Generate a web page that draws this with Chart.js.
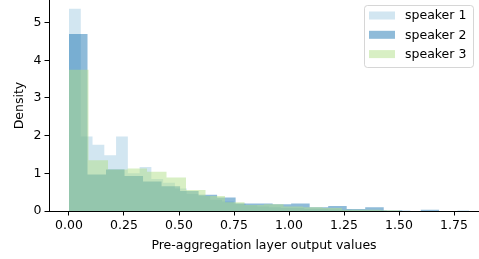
<!DOCTYPE html>
<html><head><meta charset="utf-8">
<script src="https://cdn.jsdelivr.net/npm/chart.js@4/dist/chart.umd.min.js"></script>
<style>html,body{margin:0;padding:0;background:#fff}#wrap{width:479px;height:259px;position:relative}</style>
</head><body><div id="wrap"><canvas id="c" width="479" height="259"></canvas></div>
<script>
// ---- data ----
const seriesNames = ['speaker 1', 'speaker 2', 'speaker 3'];
const binStart = [0, 0, 0];
const binWidth = [0.0535, 0.08415, 0.08864];
const speaker1 = [5.37, 1.98, 1.76, 1.48, 1.98, 1.00, 1.17, 0.85, 0.75, 0.60, 0.45, 0.40, 0.30, 0.25, 0.20, 0.15, 0.12, 0.10, 0.08, 0.08, 0.05, 0.05, 0.04, 0.03, 0.02, 0.02, 0.02, 0.00, 0.02, 0.00, 0.00, 0.00, 0.00, 0.02];
const speaker2 = [4.70, 0.97, 1.10, 0.93, 0.78, 0.66, 0.53, 0.43, 0.36, 0.20, 0.20, 0.18, 0.20, 0.10, 0.13, 0.05, 0.10, 0.01, 0.00, 0.03];
const speaker3 = [3.75, 1.35, 1.10, 1.13, 1.04, 0.89, 0.56, 0.40, 0.23, 0.16, 0.18, 0.12, 0.10, 0.08, 0.03, 0.03, 0.02];
const xTicks = [0, 0.25, 0.5, 0.75, 1.0, 1.25, 1.5, 1.75];
const yTicks = [0, 1, 2, 3, 4, 5];
const xRange = [-0.0909, 1.8636];
const yRange = [0, 5.6];
const xTitle = 'Pre-aggregation layer output values';
const yTitle = 'Density';

// ---- build ----
const FONT = 'DejaVu Sans';
const colors = ['rgba(166,206,227,0.5)', 'rgba(31,120,180,0.5)', 'rgba(178,223,138,0.5)'];
const allSeries = [speaker1, speaker2, speaker3];

function steps(vals, start, w) {
  const pts = vals.map((v, i) => ({x: start + i * w, y: v}));
  pts.push({x: start + vals.length * w, y: vals[vals.length - 1]});
  return pts;
}

const datasets = allSeries.map((vals, k) => ({
  label: seriesNames[k],
  data: steps(vals, binStart[k], binWidth[k]),
  stepped: true,
  fill: 'origin',
  backgroundColor: colors[k],
  borderWidth: 0,
  borderColor: 'rgba(0,0,0,0)',
  pointRadius: 0,
  pointHoverRadius: 0,
  order: 3 - k
}));

const legendPlugin = {
  id: 'mplLegend',
  afterDraw(chart) {
    const ctx = chart.ctx;
    ctx.save();
    const bx = 364.5, by = 5.5, bw = 109, bh = 62, r = 3;
    ctx.beginPath();
    ctx.moveTo(bx + r, by);
    ctx.arcTo(bx + bw, by, bx + bw, by + bh, r);
    ctx.arcTo(bx + bw, by + bh, bx, by + bh, r);
    ctx.arcTo(bx, by + bh, bx, by, r);
    ctx.arcTo(bx, by, bx + bw, by, r);
    ctx.closePath();
    ctx.fillStyle = 'rgba(255,255,255,0.8)';
    ctx.fill();
    ctx.strokeStyle = 'rgba(204,204,204,0.8)';
    ctx.lineWidth = 1;
    ctx.stroke();
    ctx.font = '12.5px "' + FONT + '"';
    ctx.textBaseline = 'middle';
    ctx.textAlign = 'left';
    chart.data.datasets.forEach((ds, i) => {
      const cy = 15.5 + i * 19.3;
      ctx.fillStyle = ds.backgroundColor;
      ctx.fillRect(369, cy - 4, 26, 8);
      ctx.fillStyle = '#000';
      ctx.fillText(ds.label, 405, cy + 0.5);
    });
    ctx.restore();
  }
};

new Chart(document.getElementById('c'), {
  type: 'line',
  data: {datasets},
  options: {
    responsive: false,
    animation: false,
    events: [],
    layout: {padding: 0},
    plugins: {legend: {display: false}, tooltip: {enabled: false}},
    scales: {
      x: {
        type: 'linear',
        min: xRange[0], max: xRange[1],
        afterBuildTicks: s => { s.ticks = xTicks.map(v => ({value: v})); },
        afterFit: s => { s.height = 48; s.paddingLeft = 0; s.paddingRight = 0; },
        ticks: {
          color: '#000', font: {family: FONT, size: 12.5}, padding: 3,
          maxRotation: 0, autoSkip: false,
          callback: v => Number(v).toFixed(2)
        },
        grid: {display: true, drawOnChartArea: false, drawTicks: true, tickLength: 4.5, color: '#000', lineWidth: 1},
        border: {display: true, color: '#000', width: 1},
        title: {display: true, text: xTitle, color: '#000', font: {family: FONT, size: 12.5}, padding: {top: 0, bottom: 6}}
      },
      y: {
        type: 'linear',
        min: yRange[0], max: yRange[1],
        afterBuildTicks: s => { s.ticks = yTicks.map(v => ({value: v})); },
        afterFit: s => { s.width = 49; s.paddingTop = 0; s.paddingBottom = 0; },
        ticks: {color: '#000', font: {family: FONT, size: 12.5}, padding: 3, callback: v => String(v)},
        grid: {display: true, drawOnChartArea: false, drawTicks: true, tickLength: 4.5, color: '#000', lineWidth: 1},
        border: {display: true, color: '#000', width: 1},
        title: {display: true, text: yTitle, color: '#000', font: {family: FONT, size: 12.5}, padding: {top: 12, bottom: 0}}
      }
    }
  },
  plugins: [legendPlugin]
});
</script>
</body></html>
